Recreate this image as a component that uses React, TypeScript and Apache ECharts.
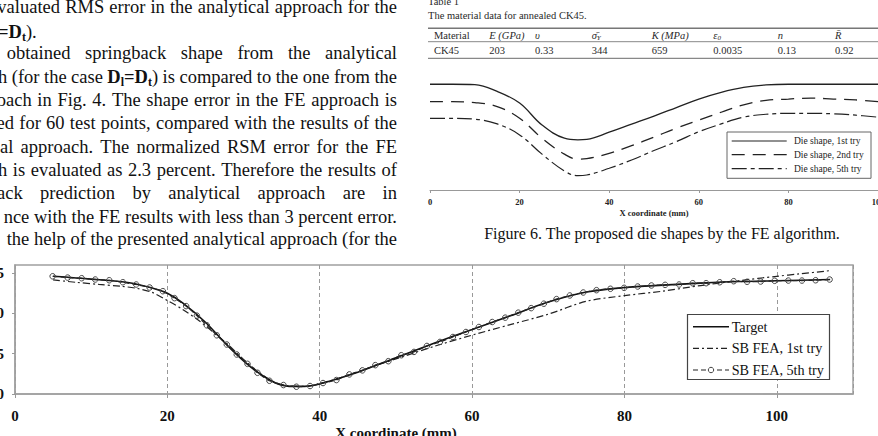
import React, { useEffect, useRef } from "react";
import * as echarts from "echarts";

// ---------- Main chart (springback shapes) ----------
const targetX = [5, 10, 15, 18, 20, 22, 25, 28, 31, 34, 36, 38, 40, 45, 50, 55, 60, 65, 70, 75, 80, 85, 90, 95, 100, 107];
const targetY = [14.6, 14.25, 13.8, 13.15, 12.5, 11.3, 8.9, 5.9, 3.3, 1.45, 0.95, 0.95, 1.25, 2.7, 4.5, 6.3, 8.0, 9.7, 11.4, 12.65, 13.2, 13.5, 13.75, 13.95, 14.05, 14.2];

const firstTryX = [5, 8, 11, 14, 16, 18, 20, 22, 24, 26, 28, 30, 32, 34, 36, 38, 40, 43, 46, 50, 55, 60, 65, 70, 75, 80, 85, 90, 95, 100, 103, 107];
const firstTryY = [14.15, 13.85, 13.6, 13.35, 13.1, 12.6, 11.6, 10.5, 9.2, 7.7, 6.1, 4.3, 2.7, 1.5, 1.0, 0.95, 1.3, 2.1, 3.1, 4.35, 5.9, 7.3, 8.6, 9.9, 11.5, 12.2, 12.75, 13.45, 14.05, 14.6, 14.9, 15.3];

const fifthTryX = [4.94, 6.91, 8.75, 10.53, 12.37, 14.16, 15.91, 17.67, 19.41, 20.94, 22.47, 23.87, 25.18, 26.49, 27.8, 29.11, 30.52, 31.83, 33.4, 35.24, 36.94,
  38.73, 40.43, 42.19, 43.89, 45.6, 47.3, 49.01, 50.71, 52.37, 54.07, 55.78, 57.48, 59.19, 60.89, 62.65, 64.35, 66.06, 67.76, 69.42, 71.08, 72.83, 74.59,
  76.33, 78.16, 79.96, 81.74, 83.54, 85.34, 87.17, 88.96, 90.72, 92.5, 94.34, 96.1, 97.88, 99.71, 101.51, 103.3, 105.09, 106.93];
const fifthTryY = [14.6, 14.44, 14.36, 14.2, 14.11, 13.86, 13.58, 13.21, 12.75, 11.89, 10.9, 9.72, 8.52, 7.28, 6.14, 4.9, 3.74, 2.63, 1.64, 1.11, 0.9,
  0.99, 1.36, 1.73, 2.43, 2.93, 3.58, 4.07, 4.81, 5.22, 5.96, 6.46, 7.07, 7.69, 8.31, 8.93, 9.47, 10.09, 10.65, 11.2, 11.77, 12.22, 12.59,
  12.88, 13.05, 13.17, 13.33, 13.46, 13.54, 13.58, 13.74, 13.74, 13.86, 13.99, 13.92, 13.95, 14.04, 14.07, 14.07, 14.11, 14.2];

const mainLegend = ["Target", "SB FEA, 1st try", "SB FEA, 5th try"];

// ---------- Figure 6 (die shapes) ----------
const dieX = [0, 5, 10, 15, 20, 25, 30, 33, 35, 40, 45, 50, 55, 60, 65, 70, 75, 80, 85, 90, 95, 100];
const die1st = [23.6, 23.6, 23.5, 22.0, 19.4, 14.5, 11.55, 11.2, 11.3, 12.9, 14.7, 16.5, 18.4, 20.3, 21.8, 22.9, 23.45, 23.6, 23.6, 23.6, 23.6, 23.6];
const die2nd = [19.7, 19.7, 19.5, 18.6, 16.0, 11.55, 8.0, 6.9, 7.0, 8.2, 9.9, 11.8, 13.8, 15.6, 17.35, 19.0, 20.0, 20.3, 20.5, 20.3, 20.1, 19.7];
const die5th = [16.0, 16.0, 15.8, 14.75, 12.3, 8.0, 4.25, 3.2, 3.35, 4.85, 6.7, 8.8, 10.8, 13.0, 14.75, 16.25, 16.9, 17.1, 17.1, 17.0, 16.7, 16.25];
const dieLegend = ["Die shape, 1st try", "Die shape, 2nd try", "Die shape, 5th try"];

// ---------- Table ----------
const tableHeader = ["Material", "E (GPa)", "υ", "σ̄Y", "K (MPa)", "ε0", "n", "R̄"];
const tableRow = ["CK45", "203", "0.33", "344", "659", "0.0035", "0.13", "0.92"];

// ---------- Text ----------
const paraLines = [
  "valuated RMS error in the analytical approach for the",
  "{b|=D}{s|t}).",
  "obtained springback shape from the analytical",
  "h (for the case {b|D}{s|l}{b|=D}{s|t}) is compared to the one from the",
  "oach in Fig. 4. The shape error in the FE approach is",
  "ed for 60 test points, compared with the results of the",
  "al approach. The normalized RSM error for the FE",
  "h is evaluated as 2.3 percent. Therefore the results of",
  "ack prediction by analytical approach are in",
  "nce with the FE results with less than 3 percent error.",
  "the help of the presented analytical approach (for the",
];
const caption = "Figure 6. The proposed die shapes by the FE algorithm.";

const SERIF = '"Liberation Serif", "Times New Roman", serif';
const P = 18.5;
const SUB = 12;

function zip(xs: number[], ys: number[]) {
  return xs.map((x, i) => [x, ys[i]]);
}

let ctx: CanvasRenderingContext2D | null = null;
function measure(text: string, size: number, weight = "normal") {
  if (!ctx) ctx = document.createElement("canvas").getContext("2d");
  if (!ctx) return text.length * size * 0.45;
  ctx.font = `${weight} ${size}px "Liberation Serif"`;
  return ctx.measureText(text).width;
}

function richWidth(word: string) {
  const re = /\{(\w+)\|([^}]*)\}|([^{]+)/g;
  let m: RegExpExecArray | null;
  let w = 0;
  while ((m = re.exec(word))) {
    if (m[3] !== undefined) w += measure(m[3], P);
    else if (m[1] === "b") w += measure(m[2], P, "bold");
    else w += measure(m[2], SUB, "bold");
  }
  return w;
}

const richBold = {
  b: { fontFamily: SERIF, fontSize: P, fontWeight: "bold", fill: "#111" },
  s: { fontFamily: SERIF, fontSize: SUB, fontWeight: "bold", fill: "#111", verticalAlign: "bottom", lineHeight: 12 },
};

function txt(x: number, y: number, text: string, opts: any = {}) {
  const align = opts.align || "left";
  return {
    type: "text",
    x,
    y,
    silent: true,
    style: {
      text,
      fontFamily: SERIF,
      fontSize: opts.size || P,
      fontWeight: opts.weight || "normal",
      fontStyle: opts.style || "normal",
      fill: opts.fill || "#111",
      align,
      textAlign: align,
      verticalAlign: "middle",
      textVerticalAlign: "middle",
      rich: opts.rich,
      lineHeight: opts.lineHeight,
    },
  };
}

// justify a line between an anchor on its first word and the right margin
function justified(line: string, y: number, anchor: number, anchorIsRight: boolean, right: number) {
  const words = line.split(" ");
  const ws = words.map((w) => richWidth(w));
  const total = ws.reduce((a, b) => a + b, 0);
  const left = anchorIsRight ? anchor - ws[0] : anchor;
  const gap = (right - left - total) / (words.length - 1);
  const els: any[] = [];
  let x = left;
  words.forEach((w, i) => {
    els.push(txt(x, y, w, { size: P, rich: richBold, lineHeight: 22 }));
    x += ws[i] + gap;
  });
  return els;
}

export default function App() {
  const ref = useRef<HTMLDivElement>(null);
  useEffect(() => {
    if (!ref.current) return;
    const chart = echarts.init(ref.current, undefined, { renderer: "svg" });
    const R = 397;
    const ys = [6.7, 31.7, 53.3, 76.7, 100, 123.3, 146.7, 170, 193.3, 216.7, 239.3];
    // [anchor x, anchor is right edge of first word]
    const anchors: [number, boolean][] = [
      [60, true], [0, false], [6.7, false], [7.3, true], [31.7, true], [14, true],
      [13.3, true], [7.3, true], [22.7, true], [29.3, true], [6.7, false],
    ];
    const para: any[] = [];
    paraLines.forEach((line, i) => {
      if (i === 1) {
        para.push(txt(-2, ys[i], line, { size: P, rich: richBold, lineHeight: 22 }));
      } else {
        para.push(...justified(line, ys[i], anchors[i][0], anchors[i][1], R));
      }
    });

    // table
    const T = 10.5;
    const colX = [434, 489.3, 535, 591.7, 651.7, 713.3, 777.7, 835];
    const tcol = "#2a2a2a";
    const tRich = {
      it: { fontFamily: SERIF, fontSize: T, fontStyle: "italic", fill: tcol },
      sub: { fontFamily: SERIF, fontSize: 7, fontStyle: "italic", fill: tcol, verticalAlign: "bottom", lineHeight: 8 },
    };
    const headerTexts = [
      tableHeader[0],
      "{it|" + tableHeader[1] + "}",
      "{it|" + tableHeader[2] + "}",
      "{it|σ̄}{sub|Y}",
      "{it|" + tableHeader[4] + "}",
      "{it|ε}{sub|0}",
      "{it|" + tableHeader[6] + "}",
      "{it|" + tableHeader[7] + "}",
    ];
    const table: any[] = [
      txt(428, 1, "Table 1", { size: T, fill: tcol }),
      txt(428, 15, "The material data for annealed CK45.", { size: T, fill: tcol }),
      { type: "line", silent: true, shape: { x1: 428, y1: 28.3, x2: 878, y2: 28.3 }, style: { stroke: "#777", lineWidth: 1.5 } },
      { type: "line", silent: true, shape: { x1: 428, y1: 41.7, x2: 878, y2: 41.7 }, style: { stroke: "#888", lineWidth: 1 } },
      { type: "line", silent: true, shape: { x1: 428, y1: 58.3, x2: 878, y2: 58.3 }, style: { stroke: "#888", lineWidth: 1.2 } },
    ];
    headerTexts.forEach((h, i) => table.push(txt(colX[i], 35.2, h, { size: T, fill: tcol, rich: tRich, lineHeight: 12 })));
    tableRow.forEach((v, i) => table.push(txt(colX[i], 50, v, { size: T, fill: tcol })));

    // legends
    const mainLeg: any[] = [
      { type: "rect", silent: true, z: 10, shape: { x: 687.5, y: 314.5, width: 142, height: 65 }, style: { fill: "#fff", stroke: "#444", lineWidth: 1.2 } },
      { type: "line", silent: true, z: 11, shape: { x1: 693, y1: 326.7, x2: 729, y2: 326.7 }, style: { stroke: "#111", lineWidth: 1.5 } },
      { type: "line", silent: true, z: 11, shape: { x1: 693, y1: 348.3, x2: 729, y2: 348.3 }, style: { stroke: "#222", lineWidth: 1.2, lineDash: [6, 3, 2, 3] } },
      { type: "line", silent: true, z: 11, shape: { x1: 693, y1: 370, x2: 729, y2: 370 }, style: { stroke: "#222", lineWidth: 1.2, lineDash: [5, 3] } },
      { type: "circle", silent: true, z: 12, shape: { cx: 711, cy: 370, r: 2.7 }, style: { fill: "#fff", stroke: "#444", lineWidth: 1 } },
    ];
    [326.7, 348.3, 370].forEach((y, i) => mainLeg.push({ ...txt(731.7, y, mainLegend[i], { size: 14.2 }), z: 12 }));

    const dieLeg: any[] = [
      { type: "rect", silent: true, z: 10, shape: { x: 727, y: 132, width: 144, height: 46.3 }, style: { fill: "#fff", stroke: "#666", lineWidth: 1 } },
      { type: "line", silent: true, z: 11, shape: { x1: 731.7, y1: 141, x2: 786.7, y2: 141 }, style: { stroke: "#222", lineWidth: 1.2 } },
      { type: "line", silent: true, z: 11, shape: { x1: 731.7, y1: 154.7, x2: 786.7, y2: 154.7 }, style: { stroke: "#222", lineWidth: 1.2, lineDash: [13, 8] } },
      { type: "line", silent: true, z: 11, shape: { x1: 731.7, y1: 168.7, x2: 786.7, y2: 168.7 }, style: { stroke: "#222", lineWidth: 1.2, lineDash: [15, 4, 4, 4] } },
    ];
    [141, 154.7, 168.7].forEach((y, i) => dieLeg.push({ ...txt(794, y, dieLegend[i], { size: 9.5, fill: "#222" }), z: 12 }));

    const graphic = [
      ...para,
      ...table,
      ...mainLeg,
      ...dieLeg,
      txt(662, 233.5, caption, { size: 16, align: "center" }),
      txt(396, 433, "X coordinate (mm)", { size: 15, weight: "bold", align: "center" }),
    ];

    const gray = "#a0a0a0";
    chart.setOption({
      animation: false,
      backgroundColor: "#fff",
      textStyle: { fontFamily: SERIF },
      grid: [
        { left: 15, top: 265, width: 838, height: 129, show: true, borderColor: gray, borderWidth: 1.5, containLabel: false, outerBoundsMode: "none" },
        { left: 430, top: 69, width: 448, height: 121, containLabel: false, outerBoundsMode: "none" },
      ],
      xAxis: [
        {
          type: "value", gridIndex: 0, min: 0, max: 110, interval: 20,
          axisLine: { show: true, lineStyle: { color: gray, width: 1.5 } },
          axisTick: { show: true, length: 4, lineStyle: { color: "#999" } },
          axisLabel: { showMaxLabel: false, margin: 14, fontFamily: SERIF, fontWeight: "bold", fontSize: 15, color: "#111" },
          splitLine: { show: true, lineStyle: { type: [4, 3], color: "#999", width: 1 } },
        },
        {
          type: "value", gridIndex: 1, min: 0, max: 100, interval: 20,
          axisLine: { show: true, lineStyle: { color: "#999", width: 1 } },
          axisTick: { show: true, length: 3, lineStyle: { color: "#999" } },
          axisLabel: { margin: 7, fontFamily: SERIF, fontWeight: "bold", fontSize: 8.5, color: "#222", hideOverlap: false },
          splitLine: { show: false },
          name: "X coordinate (mm)", nameLocation: "middle", nameGap: 18,
          nameTextStyle: { fontFamily: SERIF, fontWeight: "bold", fontSize: 8.5, color: "#222" },
        },
      ],
      yAxis: [
        {
          type: "value", gridIndex: 0, min: 0, max: 16, interval: 5,
          axisLine: { show: true, lineStyle: { color: gray, width: 1.5 } },
          axisTick: { show: true, length: 3, lineStyle: { color: "#999" } },
          axisLabel: { showMaxLabel: false, margin: 11, fontFamily: SERIF, fontWeight: "bold", fontSize: 15, color: "#111" },
          splitLine: { show: false },
        },
        { type: "value", gridIndex: 1, min: 0, max: 27, show: false },
      ],
      series: [
        {
          name: mainLegend[0], type: "line", xAxisIndex: 0, yAxisIndex: 0, data: zip(targetX, targetY),
          symbol: "none", smooth: 0.3, lineStyle: { color: "#111", width: 1.6 }, z: 3,
        },
        {
          name: mainLegend[1], type: "line", xAxisIndex: 0, yAxisIndex: 0, data: zip(firstTryX, firstTryY),
          symbol: "none", smooth: 0.3, lineStyle: { color: "#222", width: 1.2, type: [7, 3, 2, 3] }, z: 2,
        },
        {
          name: mainLegend[2], type: "line", xAxisIndex: 0, yAxisIndex: 0, data: zip(fifthTryX, fifthTryY),
          symbol: "circle", symbolSize: 5.5, smooth: 0.2,
          itemStyle: { color: "rgba(255,255,255,0)", borderColor: "#444", borderWidth: 1 },
          lineStyle: { color: "#222", width: 1.2, type: [5, 3] }, z: 4,
        },
        {
          name: dieLegend[0], type: "line", xAxisIndex: 1, yAxisIndex: 1, data: zip(dieX, die1st),
          symbol: "none", smooth: 0.4, lineStyle: { color: "#222", width: 1.3 },
        },
        {
          name: dieLegend[1], type: "line", xAxisIndex: 1, yAxisIndex: 1, data: zip(dieX, die2nd),
          symbol: "none", smooth: 0.4, lineStyle: { color: "#222", width: 1.3, type: [13, 8] },
        },
        {
          name: dieLegend[2], type: "line", xAxisIndex: 1, yAxisIndex: 1, data: zip(dieX, die5th),
          symbol: "none", smooth: 0.4, lineStyle: { color: "#222", width: 1.2, type: [15, 4, 4, 4] },
        },
      ],
      graphic,
    });
    return () => chart.dispose();
  }, []);
  return (
    <div
      ref={ref}
      style={{ position: "fixed", left: 0, top: 0, width: 878, height: 436, background: "#fff" }}
    />
  );
}
